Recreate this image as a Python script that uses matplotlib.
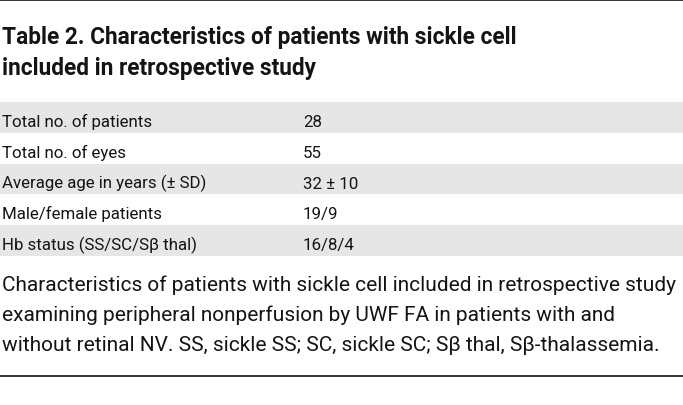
import matplotlib
matplotlib.use('Agg')
import matplotlib.pyplot as plt
from matplotlib.patches import Rectangle
from matplotlib.lines import Line2D

# ── Data ──────────────────────────────────────────────────────────────────────
title_lines = [
    'Table 2. Characteristics of patients with sickle cell',
    'included in retrospective study',
]
row_labels = [
    'Total no. of patients',
    'Total no. of eyes',
    'Average age in years (± SD)',
    'Male/female patients',
    'Hb status (SS/SC/Sβ thal)',
]
row_values = ['28', '55', '32 ± 10', '19/9', '16/8/4']
caption_lines = [
    'Characteristics of patients with sickle cell included in retrospective study',
    'examining peripheral nonperfusion by UWF FA in patients with and',
    'without retinal NV. SS, sickle SS; SC, sickle SC; Sβ thal, Sβ-thalassemia.',
]

W, H = 683, 406
FONT = ['Roboto', 'DejaVu Sans']
GRAY = '#e6e6e6'
TEXT = '#141414'
RULE = '#262626'

fig = plt.figure(figsize=(W / 100, H / 100), dpi=100)
fig.patch.set_facecolor('white')


def fy(px):
    return 1 - px / H


def fx(px):
    return px / W


# top and bottom rules
fig.add_artist(Line2D([0, 1], [fy(0.8), fy(0.8)], color=RULE, lw=1.3))
fig.add_artist(Line2D([0, 1], [fy(377), fy(377)], color=RULE, lw=1.3))

# title
for i, line in enumerate(title_lines):
    fig.text(fx(2), fy(44 + i * 30.5), line, ha='left', va='baseline',
             fontsize=16.3, fontweight='bold', color=TEXT, family=FONT)

# rows
row_top, row_h = 103, 30.8
for i, (lab, val) in enumerate(zip(row_labels, row_values)):
    top = row_top + i * row_h
    if i % 2 == 0:
        fig.add_artist(Rectangle((0, fy(top + row_h)), 1, row_h / H,
                                 transform=fig.transFigure, color=GRAY,
                                 lw=0, zorder=0))
    base = top + 24
    fig.text(fx(2), fy(base), lab, ha='left', va='baseline',
             fontsize=12.2, color=TEXT, family=FONT)
    fig.text(fx(303), fy(base), val, ha='left', va='baseline',
             fontsize=12.2, color=TEXT, family=FONT)

# caption
for i, line in enumerate(caption_lines):
    fig.text(fx(2), fy(291 + i * 30), line, ha='left', va='baseline',
             fontsize=15, color=TEXT, family=FONT)

fig.savefig('out.png', dpi=100, facecolor='white')
